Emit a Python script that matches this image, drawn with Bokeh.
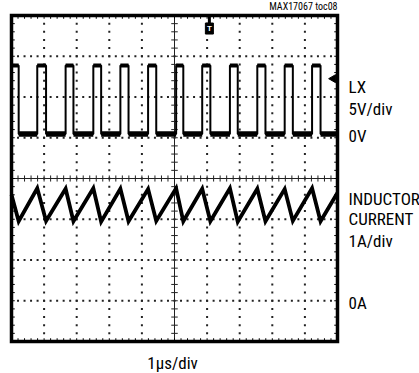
import numpy as np
from bokeh.plotting import figure
from bokeh.models import Range1d
from bokeh.embed import file_html
from bokeh.resources import INLINE
from bokeh.core.properties import value

# ---------------- data (time in us, 1 us/div) ----------------
LX_FALL_US = [0.22, 1.06, 1.90, 2.75, 3.59, 4.44, 5.27, 6.10, 6.94, 7.79, 8.63, 9.48]
LX_RISE_US = [0.79, 1.66, 2.51, 3.34, 4.19, 5.05, 5.85, 6.70, 7.54, 8.38, 9.22]
LX_HIGH_V = 8.4          # LX, 5 V/div
LX_LOW_V = 0.0
IL_VALLEY_A = [1.95, 1.96, 1.95, 1.94, 1.95, 1.96, 1.95, 1.95, 1.94, 1.95, 1.96, 1.95]
IL_PEAK_A = [2.76, 2.75, 2.76, 2.75, 2.74, 2.76, 2.75, 2.76, 2.75, 2.74, 2.76]
IL_START_A = 2.60        # inductor current, 1 A/div
IL_END_A = 2.65
T_START_US, T_END_US = 0.0, 10.0

# channel ground positions on screen (divisions from centre)
LX_ZERO_DIV = 1.09
IL_ZERO_DIV = -3.0
LX_V_PER_DIV = 5.0
IL_A_PER_DIV = 1.0
TRIGGER_T_US = 6.07
TRIGGER_LEVEL_DIV = 2.45

FONT = "Roboto Condensed"

# screen geometry: graticule 10 x 8 div, 32.6 px/div horizontally, 40.75 px/div vertically
PX_X, PX_Y = 32.6, 40.75
W, H = 419, 373
LEFT, TOP = 11, 15   # graticule top-left corner in page pixels
x_lo = -LEFT / PX_X
x_hi = (W - LEFT) / PX_X
y_hi = (178 - 0) / PX_Y
y_lo = (178 - H) / PX_Y

p = figure(width=W, height=H, x_range=Range1d(x_lo, x_hi), y_range=Range1d(y_lo, y_hi),
           x_axis_type=None, y_axis_type=None, toolbar_location=None,
           output_backend="svg", min_border=0)
p.outline_line_color = None
p.background_fill_color = "white"
p.border_fill_color = "white"

# graticule dots
minor = np.round(np.arange(0, 10.001, 0.2), 3)
minor_y = np.round(np.arange(-4, 4.001, 0.2), 3)
dx, dy = [], []
for gy in [-3, -2, -1, 1, 2, 3]:
    dx += list(minor); dy += [gy] * len(minor)
for gx in [1, 2, 3, 4, 6, 7, 8, 9]:
    dx += [gx] * len(minor_y); dy += list(minor_y)
p.scatter(dx, dy, marker="square", size=2, fill_color="#222222", line_color=None)

# centre lines with ticks
p.line([0, 10], [0, 0], line_color="#222222", line_width=1)
p.line([5, 5], [-4, 4], line_color="#222222", line_width=1)
p.segment(x0=minor, y0=-0.075, x1=minor, y1=0.075, line_color="#222222", line_width=1)
p.segment(x0=4.9, y0=minor_y, x1=5.1, y1=minor_y, line_color="#222222", line_width=1)

# border ticks
p.segment(x0=minor, y0=4, x1=minor, y1=3.92, line_color="black", line_width=1)
p.segment(x0=minor, y0=-4, x1=minor, y1=-3.92, line_color="black", line_width=1)
p.segment(x0=0, y0=minor_y, x1=0.1, y1=minor_y, line_color="black", line_width=1)
p.segment(x0=10, y0=minor_y, x1=9.9, y1=minor_y, line_color="black", line_width=1)

# ---------------- LX trace ----------------
def lx_div(v):
    return LX_ZERO_DIV + np.asarray(v, dtype=float) / LX_V_PER_DIV

hi, lo = float(lx_div(LX_HIGH_V)), float(lx_div(LX_LOW_V))
xs, ys = [T_START_US], [hi]
for i, f in enumerate(LX_FALL_US):
    xs += [f, f]; ys += [hi, lo]
    if i < len(LX_RISE_US):
        r = LX_RISE_US[i]
        xs += [r, r]; ys += [lo, hi]
xs.append(T_END_US); ys.append(lo)
p.line(xs, ys, line_color="black", line_width=2)

low_x0 = LX_FALL_US
low_x1 = LX_RISE_US + [T_END_US]
p.segment(x0=low_x0, y0=lo, x1=low_x1, y1=lo, line_color="black", line_width=5.5)
high_x0 = [T_START_US] + LX_RISE_US
high_x1 = LX_FALL_US
p.segment(x0=high_x0, y0=hi, x1=high_x1, y1=hi, line_color="black", line_width=4)

# ---------------- inductor current ----------------
tx, iy = [T_START_US], [IL_START_A]
for i, f in enumerate(LX_FALL_US):
    tx.append(f); iy.append(IL_VALLEY_A[i])
    if i < len(LX_RISE_US):
        tx.append(LX_RISE_US[i]); iy.append(IL_PEAK_A[i])
tx.append(T_END_US); iy.append(IL_END_A)
p.line(tx, IL_ZERO_DIV + np.array(iy) / IL_A_PER_DIV, line_color="black",
       line_width=3.8, line_join="miter")

# ---------------- graticule border ----------------
p.rect(x=[5], y=[0], width=10, height=8, fill_color=None, line_color="black",
       line_width=3.5, line_join="miter")

# ---------------- markers ----------------
p.segment(x0=[TRIGGER_T_US], y0=[4], x1=[TRIGGER_T_US], y1=[3.75], line_color="black", line_width=3)
p.rect(x=[TRIGGER_T_US], y=[3.68], width=8, height=11, width_units="screen",
       height_units="screen", fill_color="black", line_color="black")
p.text(x=[TRIGGER_T_US], y=[3.68], text=["T"], text_color="white", text_font_size="8px",
       text_font=value("Liberation Sans"), text_font_style="bold", text_align="center",
       text_baseline="middle")
p.scatter(x=[9.87], y=[TRIGGER_LEVEL_DIV], marker="triangle", angle=np.pi / 2, size=8,
          fill_color="black", line_color="black")

# ---------------- labels ----------------
SHIFT = 4.0 / PX_Y
def lab(text, x, y, size="17px", align="left", font=FONT):
    p.text(x=[x], y=[y + SHIFT], text=[text], text_font=value(font), text_font_size=size,
           text_align=align, text_baseline="alphabetic", text_color="black")

LX_X = 10.34
lab("LX", LX_X, 2.137)
lab("5V/div", LX_X, 1.598)
lab("0V", LX_X, 0.935)
lab("INDUCTOR", LX_X, -0.611)
lab("CURRENT", LX_X, -1.089)
lab("1A/div", LX_X, -1.630)
lab("0A", LX_X, -3.165)
lab("1\u00b5s/div", 4.94, -4.663 + 2.0 / PX_Y, align="center")
lab("MAX17067 toc08", 10.0, 4.16 - 2.0 / PX_Y, size="10px", align="right", font=FONT)

open("out.html", "w").write(file_html(p, INLINE))
